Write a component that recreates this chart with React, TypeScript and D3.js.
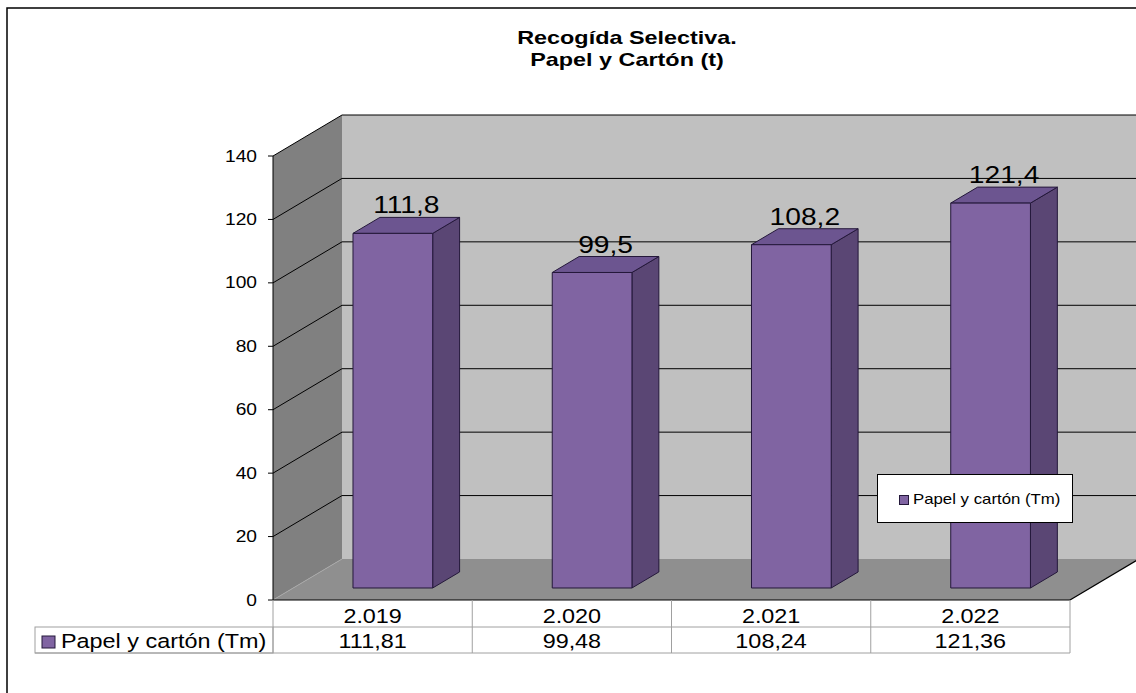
import { formatLocale, range, scaleBand, scaleLinear } from "d3"

const years = [2019, 2020, 2021, 2022]
const values = [111.81, 99.48, 108.24, 121.36]
const seriesName = "Papel y cartón (Tm)"
const titleLines = ["Recogída Selectiva.", "Papel y Cartón (t)"]
const yTicks = range(0, 141, 20)

const es = formatLocale({ decimal: ",", thousands: ".", grouping: [3], currency: ["", " €"] })
const fmtYear = es.format(",")
const fmtLabel = es.format(",.1f")
const fmtCell = es.format(",.2f")

const FONT = "'Liberation Sans', Arial, sans-serif"
const SX = 1.2 // the picture is stretched sideways a little
const DX = 69
const DY = -41
const F1 = 0.293
const F2 = 0.683
const PURPLE = "#8064a2"
const PURPLE_SIDE = "#5a4674"
const PURPLE_TOP = "#6c5590"
const EDGE = "#24183a"
const TABLE_LINE = "#a0a0a0"

const T = ({ x, y, size, anchor = "start", bold = false, sx = SX, children }) => (
    <text
        transform={`translate(${x},${y}) scale(${sx},1)`}
        fontSize={size}
        fontFamily={FONT}
        fontWeight={bold ? "bold" : "normal"}
        textAnchor={anchor}
        fill="#000"
    >
        {children}
    </text>
)

const App = () => {
    const width = 1136
    const height = 693
    const left = 273
    const right = 1070

    const x = scaleBand().domain(years.map(String)).range([left, right])
    const y = scaleLinear().domain([0, 140]).range([600, 156])

    const pt = (px, py, f) => `${px + f * DX},${py + f * DY}`
    const y0 = y(0)
    const yTop = y(140)
    const bw = x.bandwidth() * 0.4

    return (
        <svg width={width} height={height} style={{ position: "absolute", left: 0, top: 0, background: "#fff" }}>
            {/* outer frame */}
            <path d={`M7,${height} L7,8 L${width},8`} fill="none" stroke="#000" strokeWidth={1.5} />

            {titleLines.map((t, i) => (
                <T key={t} x={627} y={44 + i * 22} size={18} sx={1.3} anchor="middle" bold>{t}</T>
            ))}

            {/* walls and floor */}
            <rect x={left + DX} y={yTop + DY} width={width - left - DX} height={y0 - yTop} fill="#c0c0c0" />
            <polygon points={[pt(left, yTop, 0), pt(left, yTop, 1), pt(left, y0, 1), pt(left, y0, 0)].join(" ")} fill="#808080" />
            <polygon points={[pt(left, y0, 0), pt(right, y0, 0), pt(right, y0, 1), pt(left, y0, 1)].join(" ")} fill="#8f8f8f" />
            <line x1={left} y1={y0} x2={left + DX} y2={y0 + DY} stroke="#a8a8a8" />

            {yTicks.filter(t => t > 0).map(t => (
                <g key={t}>
                    <line x1={left} y1={y(t)} x2={left + DX} y2={y(t) + DY} stroke="#000" />
                    <line x1={left + DX} y1={y(t) + DY} x2={width} y2={y(t) + DY} stroke="#000" />
                </g>
            ))}

            {/* axis */}
            <line x1={left} y1={yTop} x2={left} y2={y0} stroke="#000" />
            {yTicks.map(t => (
                <g key={t}>
                    <line x1={left - 5} y1={y(t)} x2={left} y2={y(t)} stroke="#000" />
                    <T x={257} y={y(t) + 5.5} size={16} anchor="end">{t}</T>
                </g>
            ))}

            {/* bars */}
            {years.map((yr, i) => {
                const c = x(String(yr)) + x.bandwidth() / 2
                const x0 = c - bw / 2
                const x1 = c + bw / 2
                const yt = y(values[i])
                return (
                    <g key={yr} stroke={EDGE} strokeWidth={1} strokeLinejoin="round">
                        <polygon points={[pt(x1, yt, F1), pt(x1, yt, F2), pt(x1, y0, F2), pt(x1, y0, F1)].join(" ")} fill={PURPLE_SIDE} />
                        <polygon points={[pt(x0, yt, F1), pt(x1, yt, F1), pt(x1, yt, F2), pt(x0, yt, F2)].join(" ")} fill={PURPLE_TOP} />
                        <rect x={x0 + F1 * DX} y={yt + F1 * DY} width={bw} height={y0 - yt} fill={PURPLE} />
                    </g>
                )
            })}

            {years.map((yr, i) => {
                const c = x(String(yr)) + x.bandwidth() / 2
                const f = (F1 + F2) / 2
                return (
                    <T key={yr} x={c + f * DX} y={y(values[i]) + F2 * DY - 4} size={23.5} anchor="middle">
                        {fmtLabel(values[i])}
                    </T>
                )
            })}

            {/* floor front edges */}
            <line x1={left} y1={y0} x2={right} y2={y0} stroke="#000" strokeWidth={1.2} />
            <line x1={right} y1={y0} x2={right + DX} y2={y0 + DY} stroke="#000" strokeWidth={1.2} />

            {/* legend */}
            <rect x={877.5} y={474.5} width={195} height={48} fill="#fff" stroke="#000" />
            <rect x={899.5} y={495.5} width={9} height={9} fill={PURPLE} stroke={EDGE} />
            <T x={913} y={504} size={14}>{seriesName}</T>

            {/* data table */}
            <g stroke={TABLE_LINE} fill="none">
                <line x1={left} y1={627} x2={right} y2={627} />
                <line x1={35} y1={653} x2={right} y2={653} />
                <rect x={35} y={627} width={left - 35} height={26} />
                {[...years.map(yr => x(String(yr))), right].map((v, i) => (
                    <line key={i} x1={v} y1={y0} x2={v} y2={653} />
                ))}
            </g>
            <rect x={42} y={636} width={13} height={12} fill={PURPLE} stroke={EDGE} />
            <T x={61} y={648} size={19.5}>{seriesName}</T>
            {years.map((yr, i) => {
                const c = x(String(yr)) + x.bandwidth() / 2
                return (
                    <g key={yr}>
                        <T x={c} y={623} size={19.5} anchor="middle">{fmtYear(yr)}</T>
                        <T x={c} y={648} size={19.5} anchor="middle">{fmtCell(values[i])}</T>
                    </g>
                )
            })}
        </svg>
    )
}

export default App
